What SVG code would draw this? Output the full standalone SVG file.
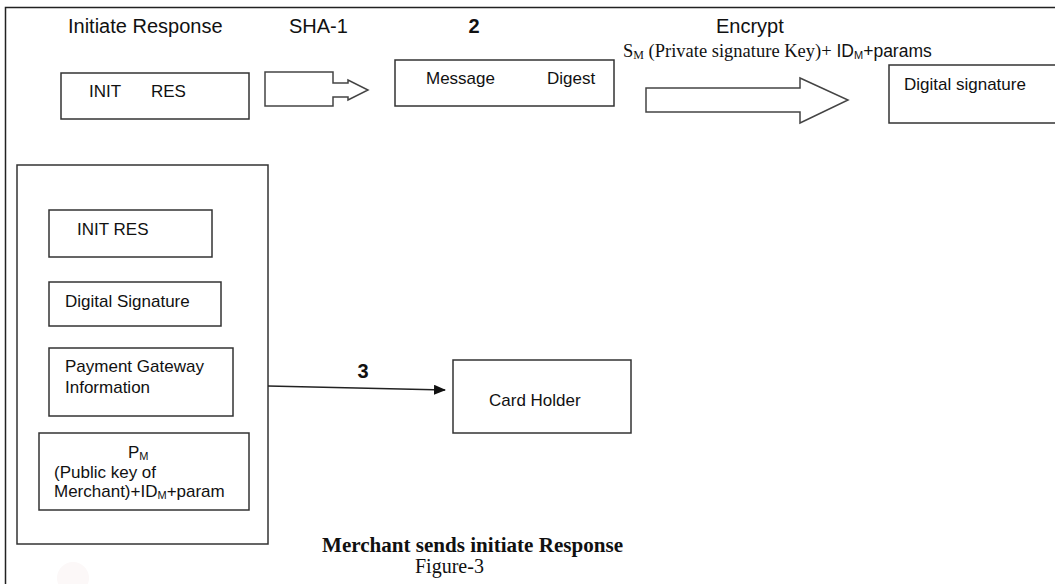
<svg xmlns="http://www.w3.org/2000/svg" width="1055" height="584" viewBox="0 0 1055 584">
<style>
.box{fill:#fff;stroke:#333;stroke-width:1.5}
.frame{fill:none;stroke:#222;stroke-width:1.5}
.blk{fill:#fff;stroke:#444;stroke-width:1.5}
.t{font-family:"Liberation Sans",Arial,sans-serif;fill:#111}
.big{font-size:20px}
.sm{font-size:17px}
.serif{font-family:"Liberation Serif","Times New Roman",serif;fill:#111}
.line{stroke:#222;stroke-width:1.5;fill:none}
</style>
<defs>
<marker id="ah" markerWidth="12" markerHeight="10" refX="11" refY="5" orient="auto" markerUnits="userSpaceOnUse">
<path d="M0,0 L12,5 L0,10 Z" fill="#111"/>
</marker>
</defs>
<rect width="1055" height="584" fill="#fff"/>
<rect class="frame" x="5.5" y="7.5" width="1070" height="600"/>
<circle cx="73" cy="578" r="16" fill="#fcf8f8"/>

<g id="labels-top">
<text class="t big" x="68" y="33">Initiate Response</text>
<text class="t big" x="289" y="33">SHA-1</text>
<text class="t big" x="474" y="33" font-weight="bold" text-anchor="middle">2</text>
<text class="t big" x="716" y="33">Encrypt</text>
<text y="57"><tspan class="serif" x="623" font-size="18.5">S</tspan><tspan class="serif" font-size="12" dy="2">M</tspan><tspan class="serif" font-size="18.5" dy="-2"> (Private signature Key)+</tspan><tspan class="t" font-size="17.5"> ID</tspan><tspan class="t" font-size="11" dy="2">M</tspan><tspan class="t" font-size="17.5" dy="-2">+params</tspan></text>
</g>

<g id="node-init-res-top">
<rect class="box" x="61" y="73" width="188" height="46"/>
<text class="t sm" x="89" y="97">INIT</text>
<text class="t sm" x="151" y="97">RES</text>
</g>

<g id="node-message-digest">
<rect class="box" x="395" y="60" width="219" height="46"/>
<text class="t sm" x="426" y="84">Message</text>
<text class="t sm" x="547" y="84">Digest</text>
</g>

<g id="node-digital-signature">
<rect class="box" x="889" y="65" width="180" height="58"/>
<text class="t sm" x="904" y="90">Digital signature</text>
</g>

<g id="node-merchant-bundle">
<rect class="box" x="17" y="165" width="251" height="379"/>
</g>

<g id="node-init-res">
<rect class="box" x="49" y="210" width="163" height="47"/>
<text class="t sm" x="77" y="235">INIT RES</text>
</g>

<g id="node-digital-signature-2">
<rect class="box" x="49" y="282" width="172" height="44"/>
<text class="t sm" x="65" y="307">Digital Signature</text>
</g>

<g id="node-payment-gateway">
<rect class="box" x="49" y="348" width="184" height="68"/>
<text class="t sm" x="65" y="372">Payment Gateway</text>
<text class="t sm" x="65" y="393">Information</text>
</g>

<g id="node-pm">
<rect class="box" x="39" y="433" width="210" height="77"/>
<text class="t sm" x="128" y="458">P<tspan font-size="11" dy="2">M</tspan></text>
<text class="t sm" x="54" y="478">(Public key of</text>
<text class="t sm" x="54" y="497">Merchant)+ID<tspan font-size="11" dy="2">M</tspan><tspan dy="-2">+param</tspan></text>
</g>

<g id="node-card-holder">
<rect class="box" x="453" y="360" width="178" height="73"/>
<text class="t sm" x="489" y="406">Card Holder</text>
</g>

<g id="connectors">
<path class="blk" d="M265,72 L333,72 L333,83 L348,83 L348,80 L368,90 L348,100 L348,97 L333,97 L333,106 L265,106 Z"/>
<path class="blk" d="M646,88 L800,88 L800,78 L848,100 L800,123 L800,112 L646,112 Z"/>
<line class="line" x1="268" y1="386" x2="445" y2="390" marker-end="url(#ah)"/>
<text class="t big" x="363" y="378" font-weight="bold" text-anchor="middle">3</text>
</g>

<g id="caption">
<text class="serif" x="322" y="552" font-size="20" font-weight="bold" textLength="301" lengthAdjust="spacingAndGlyphs">Merchant sends initiate Response</text>
<text class="serif" x="415" y="573" font-size="20">Figure-3</text>
</g>
</svg>
